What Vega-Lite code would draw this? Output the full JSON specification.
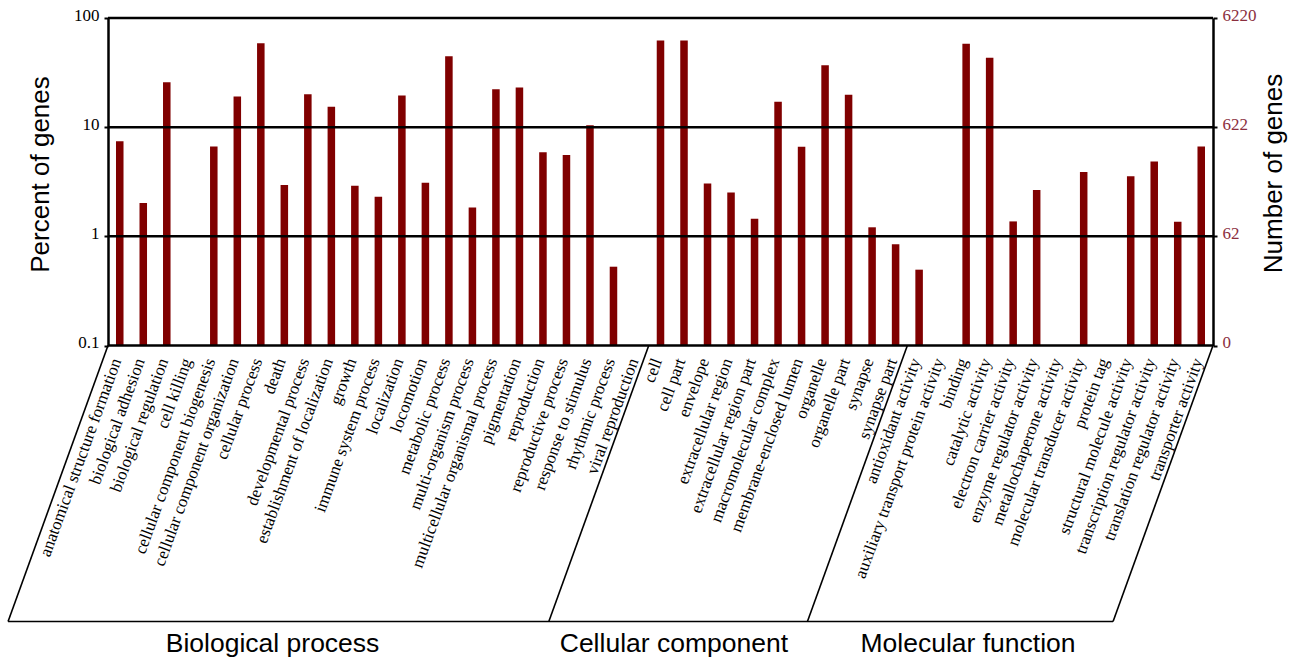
{
  "$schema": "https://vega.github.io/schema/vega-lite/v6.json",
  "autosize": {"type": "none"},
  "padding": {"left": 108, "top": 18, "right": 85, "bottom": 315.5},
  "width": 1105,
  "height": 327.5,
  "background": "white",
  "config": {"view": {"stroke": null}, "font": "Liberation Serif"},
  "datasets": {
    "levels": [
      {"percent": 0.1, "genes": 0},
      {"percent": 1, "genes": 62},
      {"percent": 10, "genes": 622},
      {"percent": 100, "genes": 6220}
    ],
    "frame": [
      {"x": -0.5, "y": -1, "x2": -4.75, "y2": -3.528},
      {"x": 22.5, "y": -1, "x2": 18.25, "y2": -3.528},
      {"x": 33.5, "y": -1, "x2": 29.25, "y2": -3.528},
      {"x": 46.5, "y": -1, "x2": 42.25, "y2": -3.528},
      {"x": -4.75, "y": -3.528, "x2": 42.25, "y2": -3.528}
    ],
    "groups": [
      {"category": "Biological process", "x": 6.5, "y": -3.806},
      {"category": "Cellular component", "x": 23.57, "y": -3.806},
      {"category": "Molecular function", "x": 36.08, "y": -3.806}
    ]
  },
  "layer": [
    {
      "data": {
        "values": [
          {"term": "anatomical structure formation", "category": "Biological process", "percent": 7.43},
          {"term": "biological adhesion", "category": "Biological process", "percent": 2.02},
          {"term": "biological regulation", "category": "Biological process", "percent": 25.8},
          {"term": "cellular component biogenesis", "category": "Biological process", "percent": 6.64},
          {"term": "cellular component organization", "category": "Biological process", "percent": 19.1},
          {"term": "cellular process", "category": "Biological process", "percent": 58.7},
          {"term": "death", "category": "Biological process", "percent": 2.96},
          {"term": "developmental process", "category": "Biological process", "percent": 20.0},
          {"term": "establishment of localization", "category": "Biological process", "percent": 15.4},
          {"term": "growth", "category": "Biological process", "percent": 2.9},
          {"term": "immune system process", "category": "Biological process", "percent": 2.31},
          {"term": "localization", "category": "Biological process", "percent": 19.5},
          {"term": "locomotion", "category": "Biological process", "percent": 3.09},
          {"term": "metabolic process", "category": "Biological process", "percent": 44.7},
          {"term": "multi-organism process", "category": "Biological process", "percent": 1.84},
          {"term": "multicellular organismal process", "category": "Biological process", "percent": 22.3},
          {"term": "pigmentation", "category": "Biological process", "percent": 23.1},
          {"term": "reproduction", "category": "Biological process", "percent": 5.89},
          {"term": "reproductive process", "category": "Biological process", "percent": 5.57},
          {"term": "response to stimulus", "category": "Biological process", "percent": 10.4},
          {"term": "rhythmic process", "category": "Biological process", "percent": 0.527},
          {"term": "cell", "category": "Cellular component", "percent": 62.2},
          {"term": "cell part", "category": "Cellular component", "percent": 62.2},
          {"term": "envelope", "category": "Cellular component", "percent": 3.04},
          {"term": "extracellular region", "category": "Cellular component", "percent": 2.52},
          {"term": "extracellular region part", "category": "Cellular component", "percent": 1.45},
          {"term": "macromolecular complex", "category": "Cellular component", "percent": 17.1},
          {"term": "membrane-enclosed lumen", "category": "Cellular component", "percent": 6.6},
          {"term": "organelle", "category": "Cellular component", "percent": 36.9},
          {"term": "organelle part", "category": "Cellular component", "percent": 19.8},
          {"term": "synapse", "category": "Cellular component", "percent": 1.21},
          {"term": "synapse part", "category": "Cellular component", "percent": 0.845},
          {"term": "antioxidant activity", "category": "Molecular function", "percent": 0.495},
          {"term": "binding", "category": "Molecular function", "percent": 58.0},
          {"term": "catalytic activity", "category": "Molecular function", "percent": 43.2},
          {"term": "electron carrier activity", "category": "Molecular function", "percent": 1.37},
          {"term": "enzyme regulator activity", "category": "Molecular function", "percent": 2.66},
          {"term": "molecular transducer activity", "category": "Molecular function", "percent": 3.89},
          {"term": "structural molecule activity", "category": "Molecular function", "percent": 3.55},
          {"term": "transcription regulator activity", "category": "Molecular function", "percent": 4.84},
          {"term": "translation regulator activity", "category": "Molecular function", "percent": 1.36},
          {"term": "transporter activity", "category": "Molecular function", "percent": 6.64}
        ]
      },
      "mark": {"type": "bar", "color": "#800000"},
      "encoding": {
        "x": {
          "field": "term",
          "type": "nominal",
          "sort": null,
          "scale": {
            "domain": ["anatomical structure formation", "biological adhesion", "biological regulation", "cell killing", "cellular component biogenesis", "cellular component organization", "cellular process", "death", "developmental process", "establishment of localization", "growth", "immune system process", "localization", "locomotion", "metabolic process", "multi-organism process", "multicellular organismal process", "pigmentation", "reproduction", "reproductive process", "response to stimulus", "rhythmic process", "viral reproduction", "cell", "cell part", "envelope", "extracellular region", "extracellular region part", "macromolecular complex", "membrane-enclosed lumen", "organelle", "organelle part", "synapse", "synapse part", "antioxidant activity", "auxiliary transport protein activity", "binding", "catalytic activity", "electron carrier activity", "enzyme regulator activity", "metallochaperone activity", "molecular transducer activity", "protein tag", "structural molecule activity", "transcription regulator activity", "translation regulator activity", "transporter activity"],
            "paddingInner": 0.68,
            "paddingOuter": 0.34
          },
          "axis": {
            "orient": "bottom",
            "title": null,
            "domain": false,
            "ticks": false,
            "labelAngle": -70,
            "labelAlign": "right",
            "labelBaseline": "middle",
            "labelFont": "Liberation Serif",
            "labelFontSize": 17,
            "labelColor": "black",
            "labelPadding": 13,
            "labelOffset": -3,
            "labelLimit": 0,
            "labelOverlap": false
          }
        },
        "y": {
          "field": "percent",
          "type": "quantitative",
          "scale": {"type": "log", "domain": [0.1, 100], "nice": false},
          "axis": {
            "orient": "left",
            "values": [0.1, 1, 10, 100],
            "labelExpr": "datum.value >= 50 ? '100' : datum.value >= 5 ? '10' : datum.value >= 0.5 ? '1' : '0.1'",
            "grid": false,
            "domain": true,
            "domainColor": "black",
            "domainWidth": 2.5,
            "ticks": true,
            "tickColor": "black",
            "tickWidth": 2,
            "tickSize": 4,
            "labelFont": "Liberation Serif",
            "labelFontSize": 17,
            "labelColor": "black",
            "labelPadding": 5,
            "labelOffset": -3,
            "title": "Percent of genes",
            "titleFont": "Liberation Sans",
            "titleFontSize": 26,
            "titleFontWeight": "normal",
            "titleColor": "black",
            "titlePadding": 20,
            "titleY": 156
          }
        },
        "y2": {"datum": 0.1}
      }
    },
    {
      "data": {"name": "levels"},
      "mark": {"type": "rule", "color": "black", "strokeWidth": 2.5},
      "encoding": {
        "y": {
          "field": "percent",
          "type": "quantitative",
          "scale": {"type": "log", "domain": [0.1, 100], "nice": false},
          "axis": {
            "orient": "right",
            "values": [0.1, 1, 10, 100],
            "labelExpr": "datum.value >= 50 ? '6220' : datum.value >= 5 ? '622' : datum.value >= 0.5 ? '62' : '0'",
            "grid": false,
            "domain": true,
            "domainColor": "black",
            "domainWidth": 2.5,
            "ticks": true,
            "tickColor": "black",
            "tickWidth": 2,
            "tickSize": 4,
            "labelFont": "Liberation Serif",
            "labelFontSize": 17,
            "labelColor": "#8B2E3E",
            "labelPadding": 5,
            "labelOffset": -3,
            "title": "Number of genes",
            "titleFont": "Liberation Sans",
            "titleFontSize": 26,
            "titleFontWeight": "normal",
            "titleColor": "black",
            "titleAngle": 270,
            "titleBaseline": "top",
            "titlePadding": 4,
            "titleY": 155
          }
        }
      }
    },
    {
      "data": {"name": "frame"},
      "mark": {"type": "rule", "color": "black", "strokeWidth": 1.6},
      "encoding": {
        "x": {"field": "x", "type": "quantitative", "scale": {"domain": [-0.5, 46.5], "nice": false, "zero": false}, "axis": null},
        "x2": {"field": "x2"},
        "y": {"field": "y", "type": "quantitative", "scale": {"domain": [-1, 2], "nice": false, "zero": false}, "axis": null},
        "y2": {"field": "y2"}
      }
    },
    {
      "data": {"name": "groups"},
      "mark": {"type": "text", "font": "Liberation Sans", "fontSize": 26.5, "align": "center", "baseline": "alphabetic", "color": "black"},
      "encoding": {
        "x": {"field": "x", "type": "quantitative", "scale": {"domain": [-0.5, 46.5], "nice": false, "zero": false}, "axis": null},
        "y": {"field": "y", "type": "quantitative", "scale": {"domain": [-1, 2], "nice": false, "zero": false}, "axis": null},
        "text": {"field": "category"}
      }
    }
  ],
  "resolve": {
    "scale": {"x": "independent", "y": "independent"},
    "axis": {"x": "independent", "y": "independent"}
  }
}
